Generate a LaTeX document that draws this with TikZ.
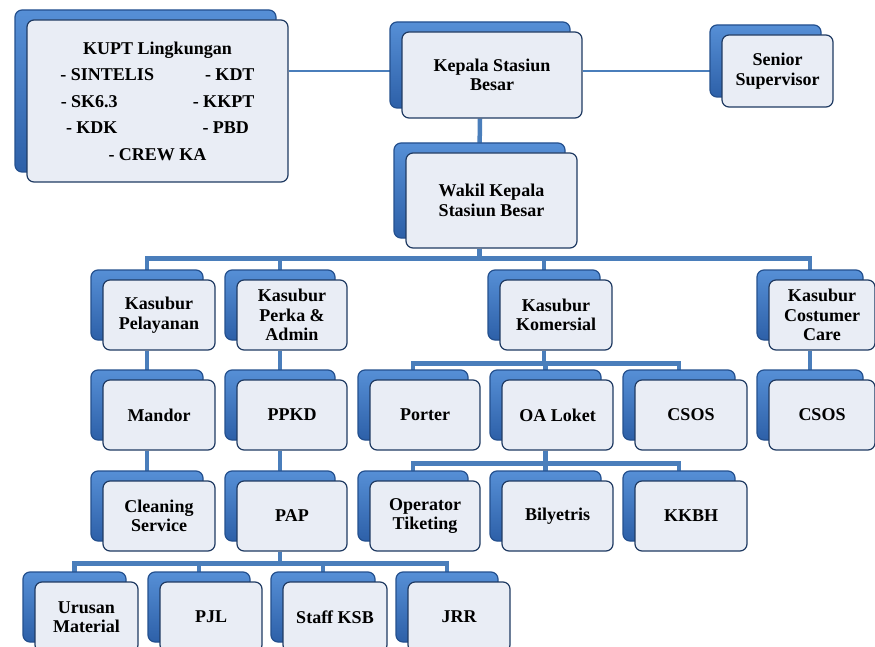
\documentclass[tikz,border=0pt]{standalone}
\usepackage{fontspec}
\setmainfont{Liberation Serif}
\usepackage{xcolor}
\usetikzlibrary{positioning,shadows,backgrounds}

\definecolor{boxline}{RGB}{31,58,98}
\definecolor{boxfill}{RGB}{233,237,245}
\definecolor{backtop}{RGB}{86,143,214}
\definecolor{backbot}{RGB}{45,96,168}
\definecolor{backline}{RGB}{36,80,142}
\definecolor{linkblue}{RGB}{74,126,187}

\tikzset{
  unit/.style={draw=boxline, line width=1.2pt, fill=boxfill, rounded corners=7pt,
    minimum width=112pt, minimum height=70pt, inner sep=2pt, align=center,
    font=\fontsize{18}{19.5}\selectfont\bfseries,
    copy shadow={shadow xshift=-12pt, shadow yshift=10pt, draw=backline,
      top color=backtop, bottom color=backbot}},
  link/.style={draw=linkblue, line width=4.5pt},
  thinlink/.style={draw=linkblue, line width=1.6pt}
}

\begin{document}
\begin{tikzpicture}[x=1pt,y=-1pt]
\useasboundingbox (0,0) rectangle (875,647);

% top row
\node[unit, minimum width=261pt, minimum height=162pt,
  font=\fontsize{18}{26.5}\selectfont\bfseries] (kupt) at (157.5,101)
  {KUPT Lingkungan\\- SINTELIS\hspace{51pt}- KDT\\- SK6.3\hspace{75pt}- KKPT\\- KDK\hspace{85pt}- PBD\\- CREW KA};
\node[unit, minimum width=180pt, minimum height=86pt] (kepala) at (492,75) {Kepala Stasiun\\Besar};
\node[unit, minimum width=111pt, minimum height=72pt] (senior) at (777.5,71) {Senior\\Supervisor};
\node[unit, minimum width=171pt, minimum height=95pt] (wakil) at (491.5,200.5) {Wakil Kepala\\Stasiun Besar};

% kasubur row
\node[unit] (pelayanan) at (159,315) {Kasubur\\Pelayanan};
\node[unit, minimum width=110pt] (perka) at (292,315) {Kasubur\\Perka \&\\Admin};
\node[unit] (komersial) at (556,315) {Kasubur\\Komersial};
\node[unit, minimum width=106pt] (costumer) at (822,315) {Kasubur\\Costumer\\Care};

% third row
\node[unit] (mandor) at (159,415) {Mandor};
\node[unit, minimum width=110pt] (ppkd) at (292,415) {PPKD};
\node[unit, minimum width=110pt] (porter) at (425,415) {Porter};
\node[unit, minimum width=111pt] (oaloket) at (557.5,415) {OA Loket};
\node[unit] (csosa) at (691,415) {CSOS};
\node[unit, minimum width=106pt] (csosb) at (822,415) {CSOS};

% fourth row
\node[unit] (cleaning) at (159,516) {Cleaning\\Service};
\node[unit, minimum width=110pt] (pap) at (292,516) {PAP};
\node[unit, minimum width=110pt] (operator) at (425,516) {Operator\\Tiketing};
\node[unit, minimum width=111pt] (bilyetris) at (557.5,516) {Bilyetris};
\node[unit] (kkbh) at (691,516) {KKBH};

% bottom row
\node[unit, minimum width=103pt] (urusan) at (86.5,617) {Urusan\\Material};
\node[unit, minimum width=102pt] (pjl) at (211,617) {PJL};
\node[unit, minimum width=104pt] (staffksb) at (335,617) {Staff KSB};
\node[unit, minimum width=102pt] (jrr) at (459,617) {JRR};

% connectors
\begin{scope}[on background layer]
\draw[thinlink] (kupt.east |- senior.west) -- (kepala.west |- senior.west);
\draw[thinlink] (kepala.east |- senior.west) -- (senior.west);
\draw[link] ([xshift=-12pt]kepala.south) -- ([xshift=-12pt]wakil.north);
\foreach \sub in {pelayanan,perka,komersial,costumer}
  \draw[link] ([xshift=-12pt]wakil.south) -- ++(0,10) -| ([xshift=-12pt]\sub.north);
\draw[link] ([xshift=-12pt]pelayanan.south) -- ([xshift=-12pt]mandor.north);
\draw[link] ([xshift=-12pt]mandor.south) -- ([xshift=-12pt]cleaning.north);
\draw[link] ([xshift=-12pt]perka.south) -- ([xshift=-12pt]ppkd.north);
\draw[link] ([xshift=-12pt]ppkd.south) -- ([xshift=-12pt]pap.north);
\draw[link] ([xshift=-12pt]costumer.south) -- ([xshift=-12pt]csosb.north);
\foreach \sub in {porter,oaloket,csosa}
  \draw[link] ([xshift=-12pt]komersial.south) -- ++(0,13) -| ([xshift=-12pt]\sub.north);
\foreach \sub in {operator,bilyetris,kkbh}
  \draw[link] ([xshift=-12pt]oaloket.south) -- ++(0,13) -| ([xshift=-12pt]\sub.north);
\foreach \sub in {urusan,pjl,staffksb,jrr}
  \draw[link] ([xshift=-12pt]pap.south) -- ++(0,12) -| ([xshift=-12pt]\sub.north);
\end{scope}

\end{tikzpicture}
\end{document}
